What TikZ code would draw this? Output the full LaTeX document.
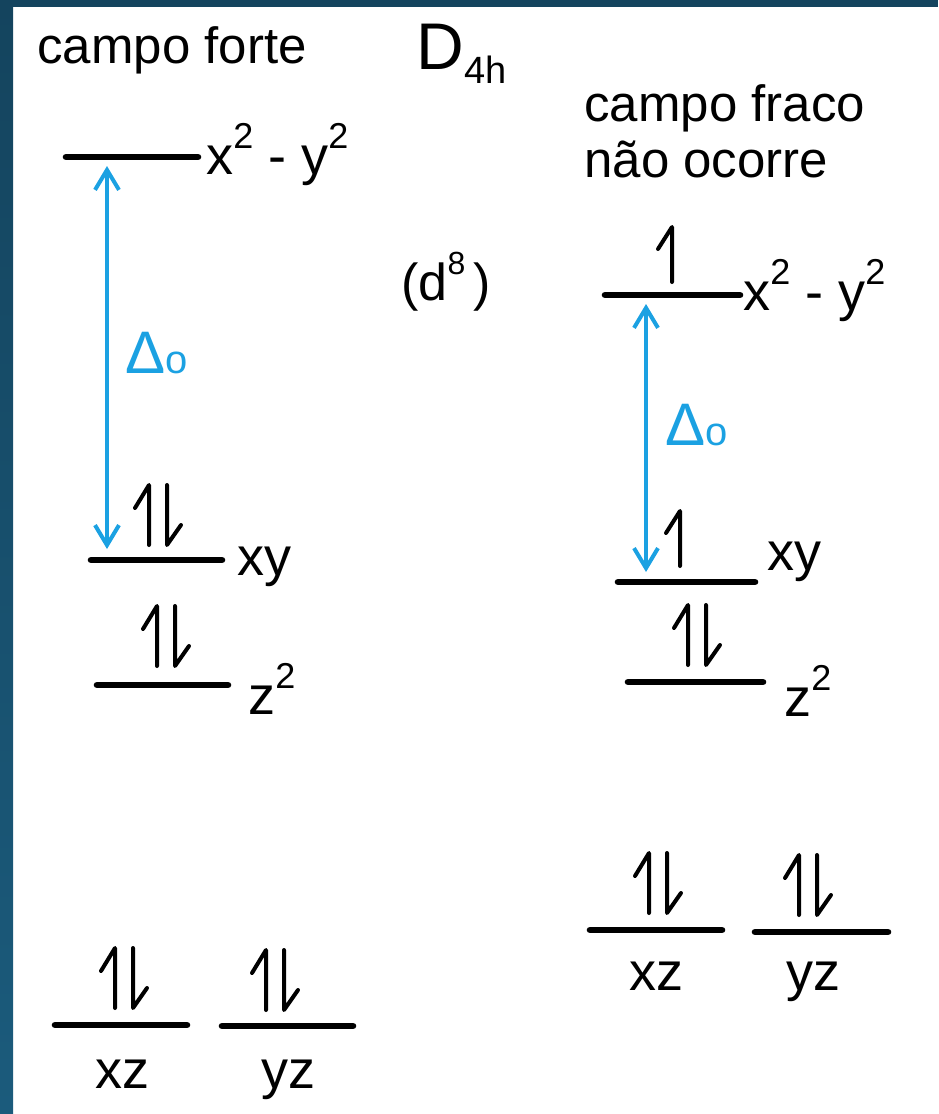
\documentclass[tikz,border=0pt]{standalone}
\usepackage{fontspec}
\setmainfont{Liberation Sans}
\usetikzlibrary{arrows.meta}
\definecolor{celeste}{HTML}{1BA1E2}
\definecolor{fundo}{HTML}{14445E}
\definecolor{fundob}{HTML}{1B5B7C}
\newcommand{\expo}[1]{\raisebox{0.48em}{\fontsize{18}{18}\selectfont #1}}

\begin{document}
\begin{tikzpicture}[
  x=0.5pt, y=-0.5pt,
  font=\fontsize{27}{30}\selectfont,
  nivel/.style={line width=3.3pt, line cap=round},
  eletron/.style={line width=2pt, line cap=round, line join=round},
  seta/.style={celeste, line width=2pt, {Straight Barb[length=10pt,width=12pt]}-{Straight Barb[length=10pt,width=12pt]}},
  etiq/.style={anchor=base west, inner sep=0pt},
  par/.pic={\draw[eletron] (-9,0) -- (-9,-60) -- (-23,-37);
            \draw[eletron] (9,-60) -- (9,0) -- (23,-20);},
  um/.pic={\draw[eletron] (0,0) -- (0,-55) -- (-14,-33);}
]
  \useasboundingbox (0,0) rectangle (938,1114);
  % --- moldura
  \fill[fundo] (0,0) rectangle (938,7);
  \shade[top color=fundo, bottom color=fundob] (0,0) rectangle (13,1114);

  % --- niveis (esquerda: campo forte, direita: campo fraco)
  \foreach \n/\xa/\xb/\y in {fx2/66/198/157, fxy/91/222/560, fz2/97/228/685,
                             fxz/55/187/1025, fyz/222/353/1026,
                             rx2/605/740/295, rxy/618/755/582, rz2/628/763/682,
                             rxz/590/722/930, ryz/755/888/932}
    {\coordinate (\n-l) at (\xa,\y);
     \coordinate (\n-r) at (\xb,\y);
     \draw[nivel] (\n-l) -- (\n-r);}

  % --- eletrons
  \pic (efxy) at (158,545) {par};
  \pic (efz2) at (166,666) {par};
  \pic (efxz) at (124,1008) {par};
  \pic (efyz) at (275,1010) {par};
  \pic (erx2) at (672,282) {um};
  \pic (erxy) at (680,566) {um};
  \pic (erz2) at (697,665) {par};
  \pic (erxz) at (658,913) {par};
  \pic (eryz) at (808,915) {par};

  % --- Delta_o
  \coordinate (dfa) at (107,166);
  \coordinate (dfb) at (107,549);
  \draw[seta] (dfa) -- (dfb);
  \coordinate (dra) at (646,304);
  \coordinate (drb) at (646,572);
  \draw[seta] (dra) -- (drb);
  \node[etiq, text=celeste, font=\fontsize{30}{32}\selectfont] (delf) at (125,373)
        {Δ\fontsize{20}{22}\selectfont o};
  \node[etiq, text=celeste, font=\fontsize{30}{32}\selectfont] (delr) at (665,445)
        {Δ\fontsize{20}{22}\selectfont o};

  % --- titulos
  \node[etiq, font=\fontsize{25.5}{28}\selectfont] (forte) at (37,63) {campo forte};
  \node[etiq, font=\fontsize{33}{40}\selectfont] (grupo) at (416,69)
        {D\raisebox{-7pt}{\fontsize{19}{20}\selectfont 4h}};
  \node[etiq, font=\fontsize{25.5}{28}\selectfont] (fraco) at (584,121) {campo fraco};
  \node[etiq, font=\fontsize{25.5}{28}\selectfont] (ocorre) at (584,177) {não ocorre};
  \node[etiq, font=\fontsize{26}{28}\selectfont] (conf) at (401,300)
        {(d\raisebox{13pt}{\fontsize{16}{18}\selectfont 8}\hspace{4pt})};

  % --- rotulos dos orbitais
  \node[etiq] (lfx2) at (206,174) {x\expo{2} - y\expo{2}};
  \node[etiq] (lrx2) at (743,310) {x\expo{2} - y\expo{2}};
  \node[etiq] (lfxy) at (237,575) {xy};
  \node[etiq] (lrxy) at (767,570) {xy};
  \node[etiq] (lfz2) at (248,714) {z\expo{2}};
  \node[etiq] (lrz2) at (784,716) {z\expo{2}};
  \node[etiq, anchor=base] (lfxz) at (122,1088) {xz};
  \node[etiq, anchor=base] (lfyz) at (288,1088) {yz};
  \node[etiq, anchor=base] (lrxz) at (656,990) {xz};
  \node[etiq, anchor=base] (lryz) at (813,990) {yz};
\end{tikzpicture}
\end{document}
